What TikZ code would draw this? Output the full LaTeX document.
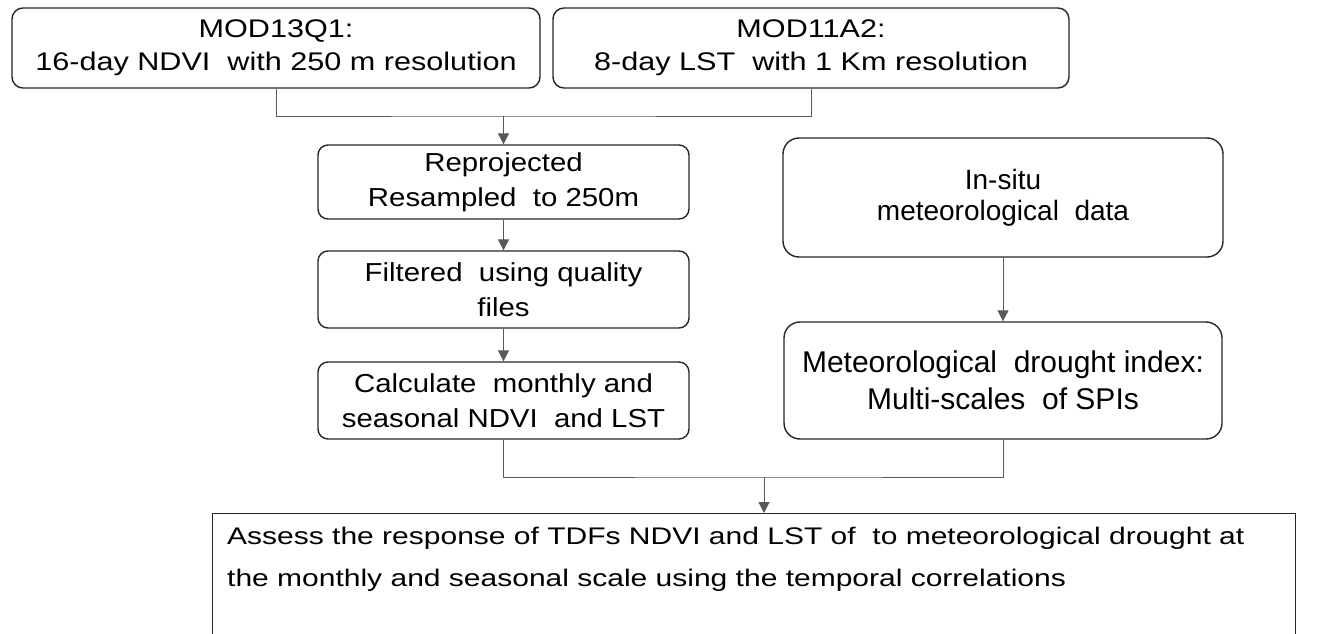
\documentclass[tikz,border=0pt]{standalone}
\usepackage{fontspec}
\setmainfont{Liberation Sans}
\newfontfamily\ftopfam[FakeStretch=1.2]{Liberation Sans}
\newfontfamily\fmidfam[FakeStretch=1.13]{Liberation Sans}
\newfontfamily\fbotfam[FakeStretch=1.25]{Liberation Sans}
\usetikzlibrary{arrows.meta}
\begin{document}
\begin{tikzpicture}[x=1pt,y=-1pt,
  box/.style={draw=black!85, line width=1.4pt, rounded corners=11pt, inner sep=0pt, align=center},
  ftop/.style={font=\ftopfam\fontsize{25.5}{33}\selectfont},
  fmid/.style={font=\fmidfam\fontsize{26}{35}\selectfont},
  fin/.style={font=\fontsize{28}{31}\selectfont},
  fmet/.style={font=\fontsize{30}{37}\selectfont},
  conn/.style={draw=black!65, line width=1pt},
  arr/.style={conn, -{Triangle[length=11pt,width=11pt]}}]
\useasboundingbox (0,0) rectangle (1322,634);
\fill[white] (0,0) rectangle (1322,634);
\node[box, ftop, minimum width=528pt, minimum height=80pt] (A) at (276,48) {MOD13Q1:\\16-day NDVI\ \ with 250 m resolution};
\node[box, ftop, minimum width=516pt, minimum height=80pt] (B) at (811,48) {MOD11A2:\\8-day LST\ \ with 1 Km resolution};
\node[box, fmid, rounded corners=10pt, minimum width=371pt, minimum height=74pt] (C) at (503.5,182) {Reprojected\\Resampled\ \ to 250m};
\node[box, fmid, rounded corners=10pt, minimum width=371pt, minimum height=77pt] (D) at (503.5,289.5) {Filtered\ \ using quality\\files};
\node[box, fmid, rounded corners=10pt, minimum width=371pt, minimum height=77pt] (E) at (503.5,400.5) {Calculate\ \ monthly and\\seasonal NDVI\ \ and LST};
\node[box, fin, rounded corners=16pt, minimum width=440pt, minimum height=119pt] (F) at (1003,197.5) {In-situ\\meteorological\ \ data};
\node[box, fmet, rounded corners=16pt, minimum width=438pt, minimum height=117pt] (G) at (1003,380.5) {Meteorological\ \ drought index:\\Multi-scales\ \ of SPIs};
\node[draw=black!85, line width=1.4pt, anchor=north west, minimum width=1083pt, minimum height=200pt, inner sep=0pt] (H) at (212,513) {};
\node[anchor=north west, align=left, inner sep=0pt, font=\fbotfam\fontsize{24}{42}\selectfont] (Ht) at (227,527) {Assess the response of TDFs NDVI and LST of\ \ to meteorological drought at\\the monthly and seasonal scale using the temporal correlations};
\coordinate (j1) at (503.5,116);
\coordinate (j2) at (764,477);
\draw[conn] (A.south) |- (j1) -| (B.south);
\draw[arr] (j1) -- (C.north);
\draw[arr] (C.south) -- (D.north);
\draw[arr] (D.south) -- (E.north);
\draw[arr] (F.south) -- (G.north);
\draw[conn] (E.south) |- (j2) -| (G.south);
\draw[arr] (j2) -- (j2 |- H.north);
\end{tikzpicture}
\end{document}
